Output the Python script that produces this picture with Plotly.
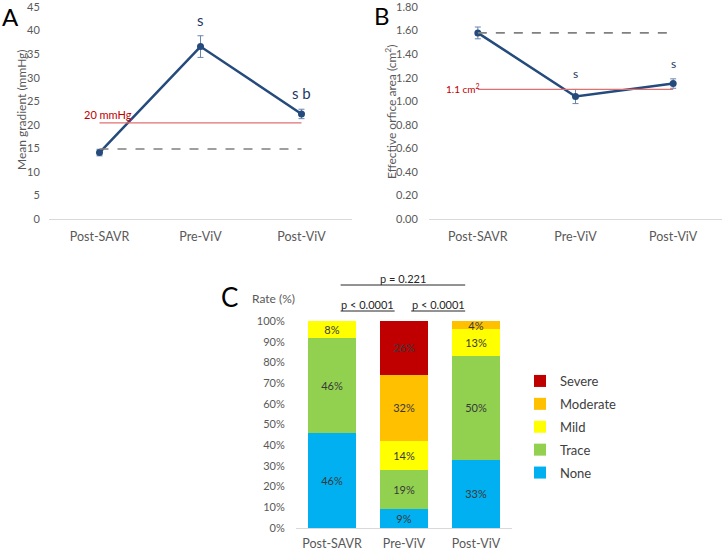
import plotly.graph_objects as go

W, H = 723, 550
FONT = "Lato"
GREY = "#595959"
NAVY = "#254A7C"

categories = ["Post-SAVR", "Pre-ViV", "Post-ViV"]

# Panel A: mean gradient (mmHg)
grad_mean = [14.1, 36.6, 22.3]
grad_err = [0.7, 2.3, 1.0]
grad_threshold = 20.4
grad_baseline = 14.85
grad_sig = ["", "s", "s b"]

# Panel B: effective orifice area (cm2)
eoa_mean = [1.58, 1.04, 1.15]
eoa_err = [0.05, 0.06, 0.04]
eoa_threshold = 1.10
eoa_baseline = 1.58
eoa_sig = ["", "s", "s"]

# Panel C: regurgitation grade (%)
grades = ["None", "Trace", "Mild", "Moderate", "Severe"]
grade_colors = ["#00B0F0", "#92D050", "#FFFF00", "#FFC000", "#C00000"]
rates = {
    "None": [46, 9, 33],
    "Trace": [46, 19, 50],
    "Mild": [8, 14, 13],
    "Moderate": [0, 32, 4],
    "Severe": [0, 26, 0],
}

def px_x(p):
    return p / W

def px_y(p):
    return 1 - p / H

fig = go.Figure()

# ---- Panel A
fig.add_trace(go.Scatter(x=categories, y=grad_mean, mode="lines+markers",
                         line=dict(color=NAVY, width=2.5), marker=dict(size=7, color=NAVY),
                         error_y=dict(type="data", array=grad_err, color="#6A86AD", thickness=1, width=3),
                         xaxis="x", yaxis="y", showlegend=False))
fig.add_trace(go.Scatter(x=[categories[0], categories[-1]], y=[grad_threshold] * 2,
                         mode="lines", line=dict(color="#E07070", width=1.2),
                         xaxis="x", yaxis="y", showlegend=False, hoverinfo="skip"))
fig.add_trace(go.Scatter(x=[categories[0], categories[-1]], y=[grad_baseline] * 2,
                         mode="lines", line=dict(color="#808080", width=1.6, dash="dash"),
                         xaxis="x", yaxis="y", showlegend=False, hoverinfo="skip"))

# ---- Panel B
fig.add_trace(go.Scatter(x=categories, y=eoa_mean, mode="lines+markers",
                         line=dict(color=NAVY, width=2.5), marker=dict(size=7, color=NAVY),
                         error_y=dict(type="data", array=eoa_err, color="#6A86AD", thickness=1, width=3),
                         xaxis="x2", yaxis="y2", showlegend=False))
fig.add_trace(go.Scatter(x=[categories[0], categories[-1]], y=[eoa_threshold] * 2,
                         mode="lines", line=dict(color="#E07070", width=1.2),
                         xaxis="x2", yaxis="y2", showlegend=False, hoverinfo="skip"))
fig.add_trace(go.Scatter(x=[categories[0], categories[-1]], y=[eoa_baseline] * 2,
                         mode="lines", line=dict(color="#808080", width=1.6, dash="dash"),
                         xaxis="x2", yaxis="y2", showlegend=False, hoverinfo="skip"))

# ---- Panel C
for rank, (g, c) in enumerate(zip(grades, grade_colors)):
    pts = [(cat, v) for cat, v in zip(categories, rates[g]) if v > 0]
    xs = [p[0] for p in pts]
    ys = [p[1] for p in pts]
    fig.add_trace(go.Bar(x=xs, y=ys, name=g, marker=dict(color=c, line=dict(width=0)),
                         text=[f"{v}%" for v in ys],
                         textposition="inside", insidetextanchor="middle", textangle=0,
                         constraintext="none",
                         textfont=dict(family=FONT, size=11, color="#383838"),
                         xaxis="x3", yaxis="y3", legendgroup=g, legendrank=100 - rank,
                         hoverinfo="skip"))

tickfont = dict(family=FONT, size=11, color=GREY)
catfont = dict(family=FONT, size=12.5, color=GREY)

common_x = dict(type="category", categoryorder="array", categoryarray=categories,
                range=[-0.5, 2.5], showgrid=False, showline=True, linecolor="#D9D9D9",
                ticks="outside", tickcolor="rgba(0,0,0,0)", tickfont=catfont, zeroline=False,
                automargin=False, ticklabeloverflow="allow")
common_y = dict(showgrid=False, showline=False, zeroline=False, ticks="outside",
                tickcolor="rgba(0,0,0,0)", tickfont=tickfont, automargin=False,
                ticklabeloverflow="allow")

fig.update_layout(
    width=W, height=H, autosize=False,
    margin=dict(l=0, r=0, t=0, b=0, pad=0),
    paper_bgcolor="white", plot_bgcolor="white",
    font=dict(family=FONT, color=GREY),
    barmode="stack", bargap=0.33,
    xaxis=dict(domain=[px_x(49), px_x(352)], anchor="y", ticklen=6, **common_x),
    yaxis=dict(domain=[px_y(219), px_y(7)], anchor="x", range=[0, 45], dtick=5, ticklen=6, **common_y),
    xaxis2=dict(domain=[px_x(429), px_x(722)], anchor="y2", ticklen=6, **common_x),
    yaxis2=dict(domain=[px_y(219), px_y(7)], anchor="x2", range=[0, 1.8], dtick=0.2,
                tickformat=".2f", ticklen=8, **common_y),
    xaxis3=dict(domain=[px_x(296), px_x(512)], anchor="y3", ticklen=4, **common_x),
    yaxis3=dict(domain=[px_y(528), px_y(321)], anchor="x3", range=[0, 100], dtick=10,
                ticksuffix="%", ticklen=8, **common_y),
    legend=dict(x=px_x(520), y=px_y(366), xanchor="left", yanchor="top",
                traceorder="grouped", tracegroupgap=3,
                font=dict(family=FONT, size=13, color="#404040"), itemwidth=30),
)

ann = []

def paper_text(text, xp, yp, size, color=GREY, angle=0, xanchor="center"):
    ann.append(dict(text=text, x=px_x(xp), y=px_y(yp), xref="paper", yref="paper",
                    xanchor=xanchor, yanchor="middle", textangle=angle, showarrow=False,
                    font=dict(family=FONT, size=size, color=color)))

# panel letters
paper_text("A", 10, 17, 24, "black")
paper_text("B", 382, 16, 24, "black")
paper_text("C", 230, 297, 26, "black")
# axis titles
paper_text("Mean gradient (mmHg)", 22, 110, 12, angle=-90)
paper_text("Effective orfice area (cm<sup>2</sup>)", 391, 112, 12, angle=-90)
paper_text("Rate (%)", 273, 298, 12)
# threshold labels
paper_text("20 mmHg", 108, 114, 11, "#C00000")
paper_text("1.1 cm<sup>2</sup>", 482, 88, 10, "#C00000", xanchor="right")

# significance letters
for c, s, m, e in zip(categories, grad_sig, grad_mean, grad_err):
    if s:
        ann.append(dict(text=s, x=c, y=m + e, xref="x", yref="y", yanchor="bottom", yshift=5,
                        showarrow=False, font=dict(family=FONT, size=15, color="#1F3864")))
for c, s, m, e in zip(categories, eoa_sig, eoa_mean, eoa_err):
    if s:
        ann.append(dict(text=s, x=c, y=m + e, xref="x2", yref="y2", yanchor="bottom", yshift=6,
                        showarrow=False, font=dict(family=FONT, size=12, color="#1F3864")))
# p-value brackets for panel C
brackets = [
    (0.12, 0.87, 311, 304, "p < 0.0001"),
    (1.10, 1.85, 311, 304, "p < 0.0001"),
    (0.12, 1.85, 285, 278, "p = 0.221"),
]
shapes = []
for x0, x1, ly, ty, label in brackets:
    shapes.append(dict(type="line", xref="x3", yref="paper", x0=x0, x1=x1,
                       y0=px_y(ly), y1=px_y(ly), line=dict(color="#262626", width=1)))
    ann.append(dict(text=label, x=(x0 + x1) / 2, y=px_y(ty), xref="x3", yref="paper",
                    xanchor="center", yanchor="middle",
                    showarrow=False, font=dict(family=FONT, size=11, color="#262626")))

fig.update_layout(annotations=ann, shapes=shapes)
fig.write_html("out.html", config={"displayModeBar": False},
               post_script="document.body.style.margin='0';document.body.style.overflow='hidden';")
